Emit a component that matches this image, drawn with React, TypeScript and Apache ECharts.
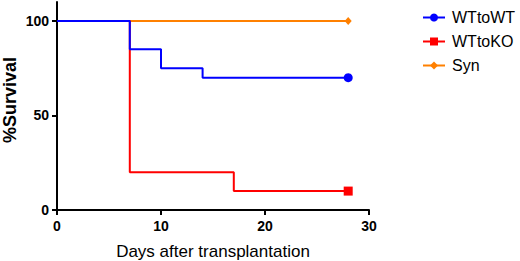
import React, { useEffect, useRef } from "react";
import * as echarts from "echarts";

const seriesNames = ["WTtoWT", "WTtoKO", "Syn"];
const wtToWtDays = [0, 7, 10, 14, 28];
const wtToWtSurvival = [100, 85, 75, 70, 70];
const wtToKoDays = [0, 7, 17, 28];
const wtToKoSurvival = [100, 20, 10, 10];
const synDays = [0, 28];
const synSurvival = [100, 100];
const xTicks = [0, 10, 20, 30];
const yTicks = [0, 50, 100];
const yTitle = "%Survival";
const xTitle = "Days after transplantation";

const FONT = "'Liberation Sans', Arial, sans-serif";

function buildData(days: number[], vals: number[]) {
  return days.map((d, i) => ({
    value: [d, vals[i]],
    symbol: i === days.length - 1 ? undefined : "none",
  }));
}

export default function App() {
  const ref = useRef<HTMLDivElement>(null);
  useEffect(() => {
    if (!ref.current) return;
    const chart = echarts.init(ref.current, null, { renderer: "svg" });
    chart.setOption({
      animation: false,
      grid: { left: 57, right: 151, top: 2, bottom: 51, containLabel: false, outerBoundsMode: "none" },
      graphic: [
        {
          type: "text",
          x: 9.5,
          y: 100,
          rotation: Math.PI / 2,
          style: {
            text: yTitle,
            fontFamily: FONT,
            fontSize: 18,
            fontWeight: "bold",
            fill: "#000",
            align: "center",
            verticalAlign: "middle",
          },
        },
      ],
      legend: {
        orient: "vertical",
        left: 417,
        top: 4,
        itemWidth: 22,
        itemHeight: 10,
        itemGap: 7,
        data: seriesNames,
        textStyle: {
          fontFamily: FONT,
          fontSize: 16,
          color: "#000",
          padding: [0, 0, 0, 2],
          lineHeight: 17,
        },
      },
      xAxis: {
        type: "value",
        min: 0,
        max: 30,
        interval: 10,
        name: xTitle,
        nameLocation: "middle",
        nameGap: 33,
        nameTextStyle: { fontFamily: FONT, fontSize: 17, color: "#000" },
        splitLine: { show: false },
        axisLine: { show: true, lineStyle: { color: "#000", width: 2 } },
        axisTick: { show: true, length: 5, lineStyle: { color: "#000", width: 2 } },
        axisLabel: {
          customValues: xTicks,
          margin: 9,
          fontFamily: FONT,
          fontSize: 14,
          fontWeight: "bold",
          color: "#000",
        },
      },
      yAxis: {
        type: "value",
        min: 0,
        max: 110,
        splitLine: { show: false },
        axisLine: { show: true, lineStyle: { color: "#000", width: 2 } },
        axisTick: { show: true, length: 5, customValues: yTicks, lineStyle: { color: "#000", width: 2 } },
        axisLabel: {
          customValues: yTicks,
          margin: 8,
          fontFamily: FONT,
          fontSize: 14,
          fontWeight: "bold",
          color: "#000",
        },
      },
      series: [
        {
          name: "Syn",
          type: "line",
          step: "end",
          data: buildData(synDays, synSurvival),
          symbol: "diamond",
          symbolSize: [7, 8],
          color: "#FF8000",
          lineStyle: { width: 2, color: "#FF8000" },
          itemStyle: { color: "#FF8000" },
        },
        {
          name: "WTtoKO",
          type: "line",
          step: "end",
          data: buildData(wtToKoDays, wtToKoSurvival),
          symbol: "rect",
          symbolSize: 9,
          color: "#FF0000",
          lineStyle: { width: 2, color: "#FF0000" },
          itemStyle: { color: "#FF0000" },
        },
        {
          name: "WTtoWT",
          type: "line",
          step: "end",
          data: buildData(wtToWtDays, wtToWtSurvival),
          symbol: "circle",
          symbolSize: 9,
          color: "#0000FF",
          lineStyle: { width: 2, color: "#0000FF" },
          itemStyle: { color: "#0000FF" },
        },
      ],
    });
    return () => chart.dispose();
  }, []);
  return (
    <div
      ref={ref}
      style={{ position: "absolute", left: 0, top: 0, width: 520, height: 261, background: "#fff" }}
    />
  );
}
